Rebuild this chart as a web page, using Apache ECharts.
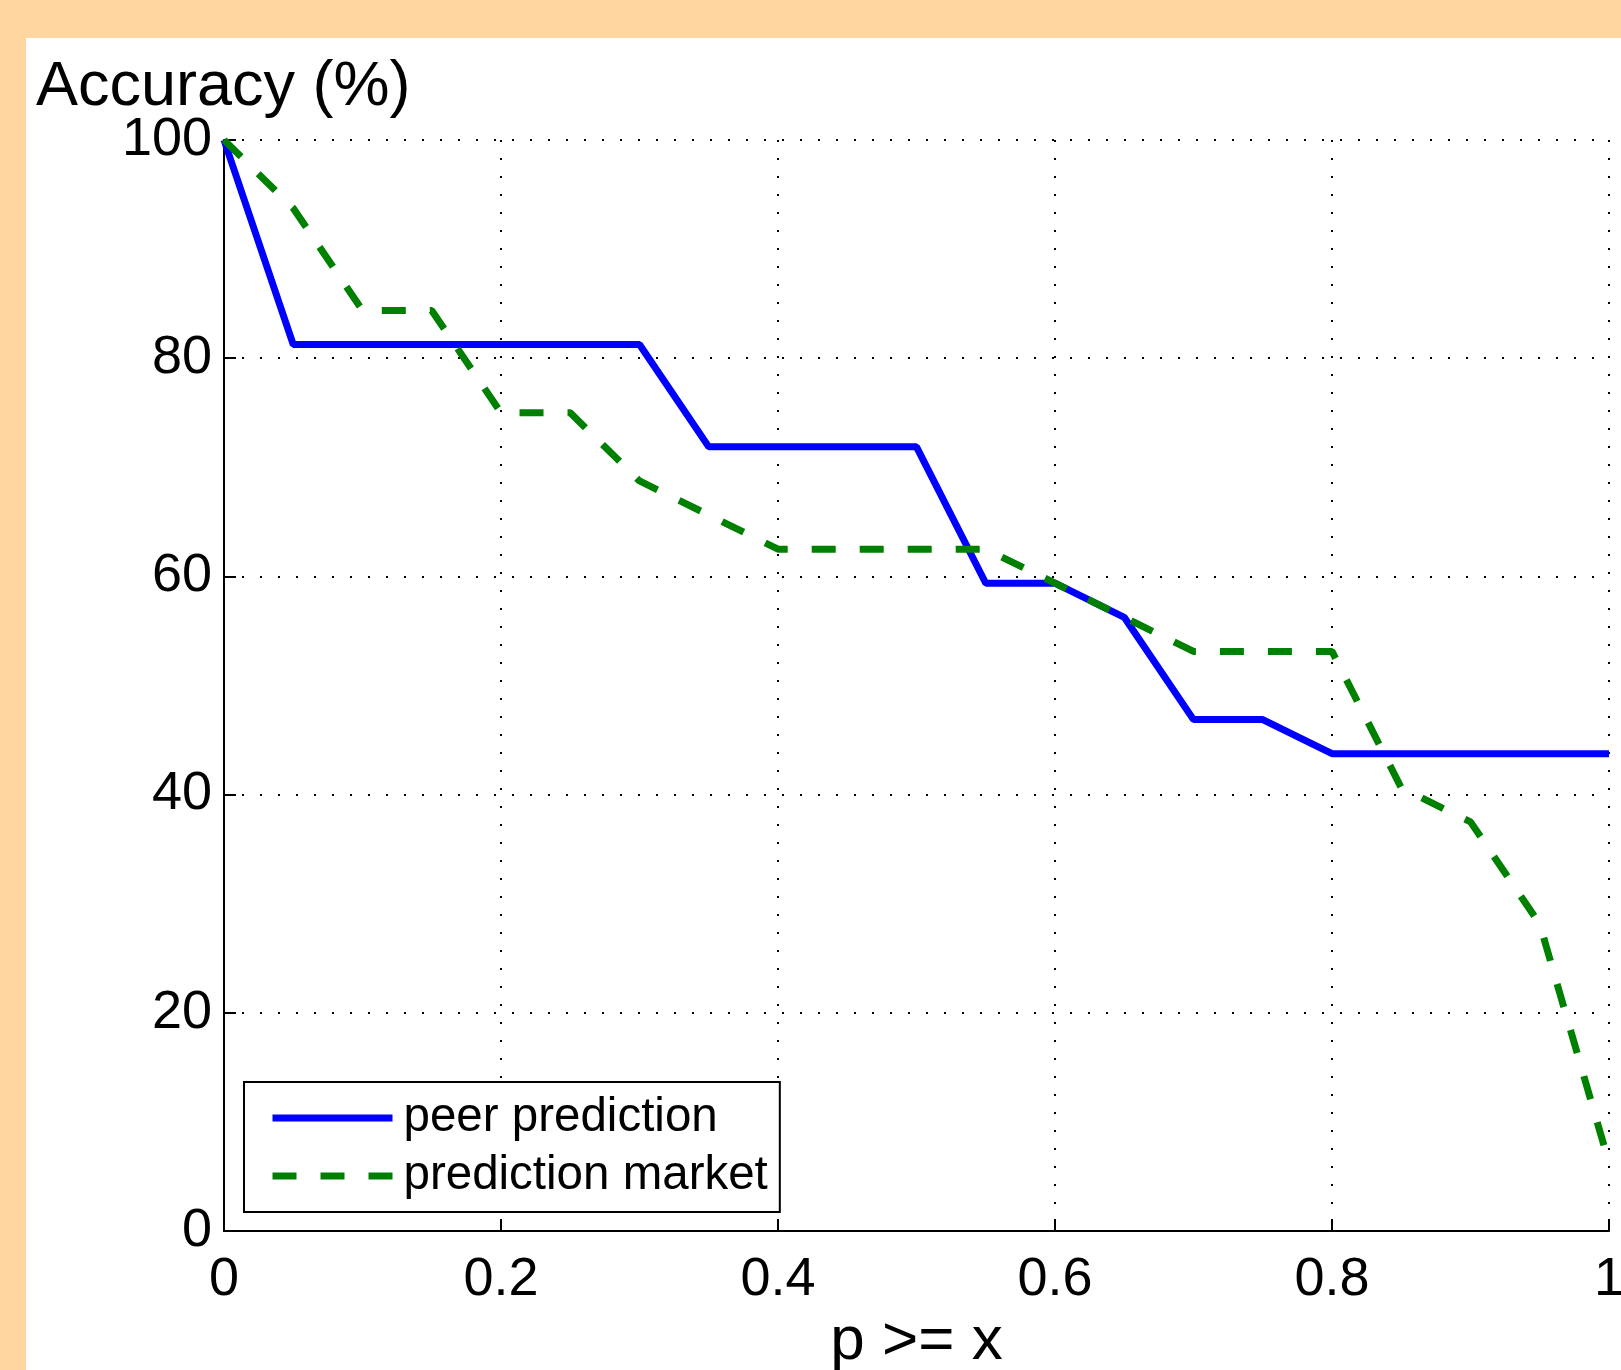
<!DOCTYPE html>
<html>
<head>
<meta charset="utf-8">
<title>Accuracy vs p</title>
<script src="https://cdn.jsdelivr.net/npm/echarts@6/dist/echarts.min.js"></script>
<style>
  html, body { margin: 0; padding: 0; }
  body { width: 1621px; height: 1370px; background: #ffd6a0; position: relative; overflow: hidden; }
  #chart { position: absolute; left: 26px; top: 38px; width: 1595px; height: 1332px; background: #fff; }
</style>
</head>
<body>
<div id="chart"></div>
<script>
// p >= x thresholds
var xValues = [0, 0.05, 0.1, 0.15, 0.2, 0.25, 0.3, 0.35, 0.4, 0.45, 0.5,
  0.55, 0.6, 0.65, 0.7, 0.75, 0.8, 0.85, 0.9, 0.95, 1];
// accuracy (%)
var peerPrediction = [100, 81.25, 81.25, 81.25, 81.25, 81.25, 81.25, 71.875, 71.875, 71.875, 71.875,
  59.375, 59.375, 56.25, 46.875, 46.875, 43.75, 43.75, 43.75, 43.75, 43.75];
var predictionMarket = [100, 93.75, 84.375, 84.375, 75, 75, 68.75, 65.625, 62.5, 62.5, 62.5,
  62.5, 59.375, 56.25, 53.125, 53.125, 53.125, 40.625, 37.5, 28.125, 6.25];
var seriesNames = ["peer prediction", "prediction market"];

var font = "'Liberation Sans', Arial, Helvetica, sans-serif";
var blueLine = { color: "#0000ff", width: 7, type: "solid" };
var greenLine = { color: "#008000", width: 7, type: [24, 24], cap: "butt" };

function pairs(ys) {
  return xValues.map(function (x, i) {
    return [x, ys[i]];
  });
}

var chart = echarts.init(document.getElementById("chart"));

var option = {
  animation: false,
  textStyle: { fontFamily: font, color: "#000" },
  grid: { left: 198, top: 102, width: 1385, height: 1091, outerBoundsMode: "none" },
  legend: {
    orient: "vertical",
    left: 218,
    top: 1044,
    padding: [7, 12, 7, 25],
    itemWidth: 120,
    itemHeight: 14,
    itemGap: 0,
    backgroundColor: "#fff",
    borderColor: "#000",
    borderWidth: 2,
    borderRadius: 0,
    itemStyle: { opacity: 0 },
    textStyle: { fontSize: 47.5, lineHeight: 48, color: "#000", fontFamily: font, padding: [10, 0, 0, 6] },
    data: [
      { name: seriesNames[0], lineStyle: blueLine },
      { name: seriesNames[1], lineStyle: greenLine }
    ]
  },
  xAxis: {
    type: "value",
    min: 0,
    max: 1,
    interval: 0.2,
    name: "p >= x",
    nameLocation: "middle",
    nameGap: 80,
    nameMoveOverlap: false,
    nameTextStyle: { fontSize: 62, color: "#000", fontFamily: font },
    axisLine: { show: true, onZero: false, lineStyle: { color: "#000", width: 2 } },
    axisTick: { show: true, inside: true, length: 12, lineStyle: { color: "#000", width: 2 } },
    axisLabel: { fontSize: 54, margin: 22, color: "#000", fontFamily: font },
    splitLine: { show: true, lineStyle: { color: "#000", width: 2, type: [2, 16] } }
  },
  yAxis: {
    type: "value",
    min: 0,
    max: 100,
    interval: 20,
    name: "Accuracy (%)",
    nameLocation: "end",
    nameGap: 21,
    nameMoveOverlap: false,
    nameTextStyle: {
      fontSize: 63, color: "#000", fontFamily: font,
      align: "left", verticalAlign: "bottom", padding: [0, 0, 0, -188]
    },
    axisLine: { show: true, onZero: false, lineStyle: { color: "#000", width: 2 } },
    axisTick: { show: true, inside: true, length: 12, lineStyle: { color: "#000", width: 2 } },
    axisLabel: { fontSize: 54, margin: 12, color: "#000", fontFamily: font },
    splitLine: { show: true, lineStyle: { color: "#000", width: 2, type: [2, 16] } }
  },
  series: [
    {
      name: seriesNames[0],
      type: "line",
      data: pairs(peerPrediction),
      symbol: "none",
      color: "#0000ff",
      lineStyle: blueLine
    },
    {
      name: seriesNames[1],
      type: "line",
      data: pairs(predictionMarket),
      symbol: "none",
      color: "#008000",
      lineStyle: greenLine
    }
  ]
};

chart.setOption(option);
</script>
</body>
</html>
